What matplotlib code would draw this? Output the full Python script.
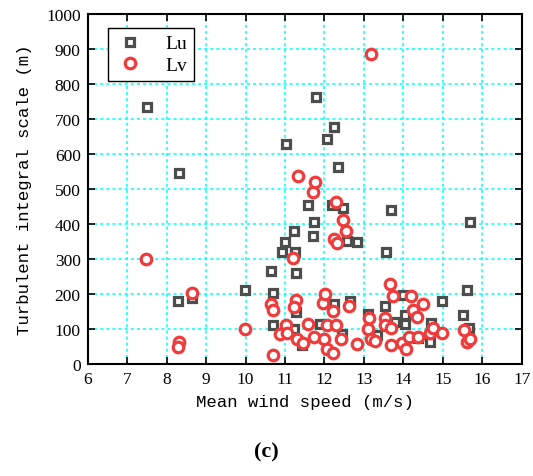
import matplotlib
matplotlib.use("Agg")
import matplotlib.pyplot as plt
import numpy as np

# Lu (squares) : mean wind speed (m/s), integral scale (m)
lu_speed = [7.5, 8.32, 8.28, 8.65, 9.99, 10.64, 10.69, 10.69, 10.92, 10.99,
            11.03, 11.24, 11.25, 11.28, 11.29, 11.24, 11.43, 11.58, 11.73, 11.71,
            11.79, 12.06, 12.24, 12.18, 12.34, 12.48, 12.58, 12.83, 12.23, 12.64,
            11.89, 12.44, 13.11, 13.32, 13.53, 13.55, 13.69, 13.79, 13.99, 14.03,
            14.04, 14.38, 14.67, 14.71, 14.97, 15.52, 15.6, 15.66, 15.69]
lu_scale = [734, 546, 179, 187, 212, 265, 204, 111, 319, 347,
            628, 381, 319, 261, 149, 100, 54, 453, 407, 366,
            762, 643, 676, 455, 562, 446, 350, 348, 170, 180,
            114, 85, 142, 84, 166, 321, 440, 119, 196, 140,
            115, 73, 62, 118, 180, 140, 211, 104, 405]

# Lv (circles)
lv_speed = [7.48, 8.31, 8.28, 8.65, 9.99, 10.65, 10.69, 10.69, 10.87, 11.02,
            11.04, 11.2, 11.29, 11.24, 11.3, 11.46, 11.34, 11.59, 11.72, 11.77,
            11.74, 11.95, 12.01, 12.0, 12.06, 12.06, 12.21, 12.22, 12.29, 12.24,
            12.33, 12.28, 12.46, 12.55, 12.42, 12.63, 12.82, 13.1, 13.13, 13.17,
            13.19, 13.27, 13.53, 13.53, 13.66, 13.69, 13.73, 13.69, 13.96, 14.07,
            14.15, 14.18, 14.24, 14.35, 14.36, 14.5, 14.68, 14.76, 14.97, 15.53,
            15.61, 15.68]
lv_scale = [301, 62, 49, 202, 99, 170, 155, 25, 85, 112,
            87, 303, 182, 162, 70, 59, 536, 115, 490, 520,
            77, 173, 200, 72, 112, 44, 32, 152, 111, 358,
            345, 463, 411, 380, 70, 166, 57, 99, 132, 886,
            70, 65, 132, 110, 228, 102, 193, 54, 59, 44,
            77, 195, 155, 135, 78, 171, 89, 102, 87, 98,
            62, 70]

x_ticks = np.arange(6, 18, 1)
y_ticks = np.arange(0, 1100, 100)

fig = plt.figure(figsize=(5.33, 4.77), dpi=100)
ax = fig.add_axes([0.1645, 0.235, 0.8145, 0.7335])

ax.plot(lu_speed, lu_scale, 's', ms=6.3, mfc='white', mec='#4d4d4d', mew=2.3,
        label='Lu', zorder=3)
ax.plot(lv_speed, lv_scale, 'o', ms=7.6, mfc='white', mec='#ef3b3b', mew=2.3,
        label='Lv', zorder=4)

ax.set_xlim(6, 17)
ax.set_ylim(0, 1000)
ax.set_xticks(x_ticks)
ax.set_yticks(y_ticks)
ax.grid(True, color='#00ffff', linestyle=(0, (2, 2)), linewidth=1.1)
ax.set_axisbelow(True)
ax.tick_params(direction='in', top=True, right=True, length=5, width=1.2,
               labelsize=12.5, pad=5)
for lab in ax.get_xticklabels() + ax.get_yticklabels():
    lab.set_family('Liberation Serif')
for sp in ax.spines.values():
    sp.set_linewidth(1.5)

ax.set_xlabel('Mean wind speed (m/s)', family='Liberation Mono', fontsize=12.5,
              labelpad=5)
ax.set_ylabel('Turbulent integral scale (m)', family='Liberation Mono',
              fontsize=12.5, labelpad=10)

leg = ax.legend(loc='upper left', bbox_to_anchor=(0.047, 0.96), fancybox=False,
                edgecolor='black', framealpha=1, handlelength=1.6,
                handletextpad=1.0, borderpad=0.35, labelspacing=0.2,
                borderaxespad=0,
                prop={'family': 'Liberation Serif', 'size': 14})
leg.get_frame().set_linewidth(1.0)

fig.text(0.5, 0.03, '(c)', ha='center', va='bottom', family='Liberation Serif',
         fontweight='bold', fontsize=16)

fig.savefig('out.png', dpi=100)
